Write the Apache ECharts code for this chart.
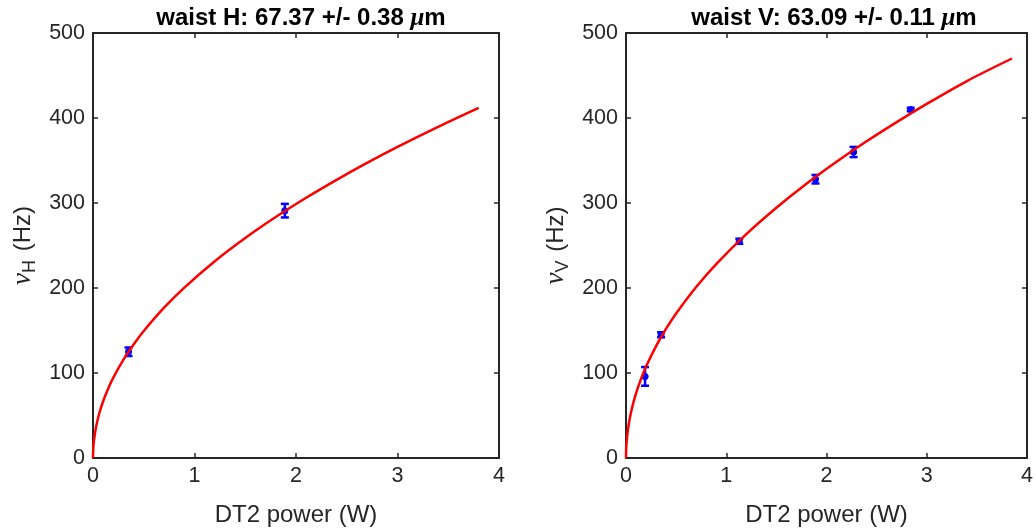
<!DOCTYPE html>
<html><head><meta charset="utf-8">
<script src="https://cdn.jsdelivr.net/npm/echarts@6/dist/echarts.min.js"></script>
<style>html,body{margin:0;padding:0;background:#fff}#c{width:1036px;height:532px}</style>
</head><body><div id="c"></div>
<script>
// ---- data ----
const xTicks = [0, 1, 2, 3, 4];
const yTicks = [0, 100, 200, 300, 400, 500];
// measured points: power (W), frequency (Hz), error (Hz)
const hPower = [0.35, 1.89];
const hFreq  = [125, 291];
const hErr   = [5, 8];
const vPower = [0.19, 0.35, 1.13, 1.89, 2.27, 2.84];
const vFreq  = [96, 145, 255, 328, 360, 410];
const vErr   = [11, 3, 3, 5, 6, 2];
// fit curves
const fitPower = [0, 0.002, 0.01, 0.03, 0.06, 0.1, 0.15, 0.2, 0.3, 0.4, 0.5, 0.7, 0.9, 1.2, 1.5, 1.8, 2.1, 2.4, 2.7, 3.0, 3.4, 3.8];
const fitH = [0, 9.4, 21.1, 36.6, 51.8, 66.8, 81.8, 94.5, 115.7, 133.6, 149.4, 176.8, 200.5, 231.5, 258.8, 283.5, 306.2, 327.3, 347.2, 366.0, 389.6, 411.9];
const fitPowerV = [0, 0.002, 0.01, 0.03, 0.06, 0.1, 0.15, 0.2, 0.3, 0.4, 0.5, 0.7, 0.9, 1.2, 1.5, 1.8, 2.1, 2.4, 2.7, 3.0, 3.4, 3.85];
const fitV = [0, 10.8, 24.1, 41.7, 58.9, 76.0, 93.1, 107.6, 131.7, 152.1, 170.1, 201.2, 228.2, 263.4, 294.5, 322.7, 348.5, 372.6, 395.2, 416.6, 443.5, 470.0];
const titleH = ['waist H: 67.37 +/- 0.38 ', 'μ', 'm'];
const titleV = ['waist V: 63.09 +/- 0.11 ', 'μ', 'm'];
const xName = 'DT2 power (W)';
const yNameH = ['ν', 'H', ' (Hz)'];
const yNameV = ['ν', 'V', ' (Hz)'];

// ---- chart ----
const FONT = 'Liberation Sans, Arial, Helvetica, sans-serif';
const SERIF = 'Liberation Serif, Times New Roman, serif';
const AX = '#262626';
const grids = [
  {left: 93, top: 33, width: 406, height: 429},
  {left: 626, top: 33, width: 406, height: 429}
];
function pairs(xs, ys) { return xs.map((x, i) => [x, ys[i]]); }
function triples(xs, ys, es) { return xs.map((x, i) => [x, ys[i], es[i]]); }

const xAxes = [], yAxes = [];
[0, 1].forEach(g => {
  xAxes.push({
    gridIndex: g, type: 'value', min: 0, max: 4, interval: 1,
    axisLine: {show: true, onZero: false, lineStyle: {color: AX, width: 2}},
    axisTick: {show: true, inside: true, length: 5, lineStyle: {color: AX, width: 1.5}},
    axisLabel: {color: AX, fontSize: 21.5, fontFamily: FONT, margin: 7},
    splitLine: {show: false},
    name: xName, nameLocation: 'middle', nameGap: 45,
    nameTextStyle: {color: AX, fontSize: 24, fontFamily: FONT}
  });
  xAxes.push({
    gridIndex: g, type: 'value', min: 0, max: 4, interval: 1, position: 'top',
    axisLine: {show: true, onZero: false, lineStyle: {color: AX, width: 2}},
    axisTick: {show: true, inside: true, length: 5, lineStyle: {color: AX, width: 1.5}},
    axisLabel: {show: false}, splitLine: {show: false}
  });
  const yn = g === 0 ? yNameH : yNameV;
  yAxes.push({
    gridIndex: g, type: 'value', min: 0, max: 500, interval: 100,
    axisLine: {show: true, onZero: false, lineStyle: {color: AX, width: 2}},
    axisTick: {show: true, inside: true, length: 5, lineStyle: {color: AX, width: 1.5}},
    axisLabel: {color: AX, fontSize: 21.5, fontFamily: FONT, margin: 8},
    splitLine: {show: false},
    name: '{nu|' + yn[0] + '}{sub|' + yn[1] + '}{n|' + yn[2] + '}',
    nameLocation: 'middle', nameGap: 54, nameRotate: 90,
    nameTextStyle: {
      color: AX, fontFamily: FONT,
      rich: {
        nu: {fontSize: 27, fontFamily: SERIF, fontStyle: 'italic', color: AX, lineHeight: 32, verticalAlign: 'middle'},
        sub: {fontSize: 18, fontFamily: FONT, color: AX, lineHeight: 18, verticalAlign: 'bottom', padding: [0, 2, 0, 0]},
        n: {fontSize: 24, fontFamily: FONT, color: AX, lineHeight: 32, verticalAlign: 'middle'}
      }
    }
  });
  yAxes.push({
    gridIndex: g, type: 'value', min: 0, max: 500, interval: 100, position: 'right',
    axisLine: {show: true, onZero: false, lineStyle: {color: AX, width: 2}},
    axisTick: {show: true, inside: true, length: 5, lineStyle: {color: AX, width: 1.5}},
    axisLabel: {show: false}, splitLine: {show: false}
  });
});

function errRender(params, api) {
  const x = api.value(0), y = api.value(1), e = api.value(2);
  const c = api.coord([x, y]);
  const lo = api.coord([x, y - e]);
  const hi = api.coord([x, y + e]);
  const cap = 4;
  const st = {stroke: '#0000ff', lineWidth: 2.5, fill: null};
  return {type: 'group', children: [
    {type: 'line', shape: {x1: c[0], y1: lo[1], x2: c[0], y2: hi[1]}, style: st},
    {type: 'line', shape: {x1: c[0] - cap, y1: lo[1], x2: c[0] + cap, y2: lo[1]}, style: st},
    {type: 'line', shape: {x1: c[0] - cap, y1: hi[1], x2: c[0] + cap, y2: hi[1]}, style: st},
    {type: 'circle', shape: {cx: c[0], cy: c[1], r: 3.5}, style: {fill: '#0000ff'}}
  ]};
}

function titleRich(t) { return '{b|' + t[0] + '}{mu|' + t[1] + '}{b|' + t[2] + '}'; }
const titleStyle = {
  rich: {
    b: {fontSize: 24, fontWeight: 'bold', fontFamily: FONT, color: '#000'},
    mu: {fontSize: 25, fontStyle: 'italic', fontFamily: SERIF, color: '#000'}
  }
};

const option = {
  animation: false,
  backgroundColor: '#fff',
  title: [
    {text: titleRich(titleH), left: 296, top: 1, textAlign: 'center', textStyle: titleStyle},
    {text: titleRich(titleV), left: 829, top: 1, textAlign: 'center', textStyle: titleStyle}
  ],
  grid: grids,
  xAxis: xAxes,
  yAxis: yAxes,
  series: [
    {type: 'custom', xAxisIndex: 0, yAxisIndex: 0, renderItem: errRender, data: triples(hPower, hFreq, hErr), z: 2},
    {type: 'line', xAxisIndex: 0, yAxisIndex: 0, data: pairs(fitPower, fitH), smooth: 0.3, showSymbol: false,
     lineStyle: {color: '#ff0000', width: 2.5}, z: 3},
    {type: 'custom', xAxisIndex: 2, yAxisIndex: 2, renderItem: errRender, data: triples(vPower, vFreq, vErr), z: 2},
    {type: 'line', xAxisIndex: 2, yAxisIndex: 2, data: pairs(fitPowerV, fitV), smooth: 0.3, showSymbol: false,
     lineStyle: {color: '#ff0000', width: 2.5}, z: 3}
  ]
};
const chart = echarts.init(document.getElementById('c'), null, {renderer: 'canvas'});
chart.setOption(option);
</script>
</body></html>
